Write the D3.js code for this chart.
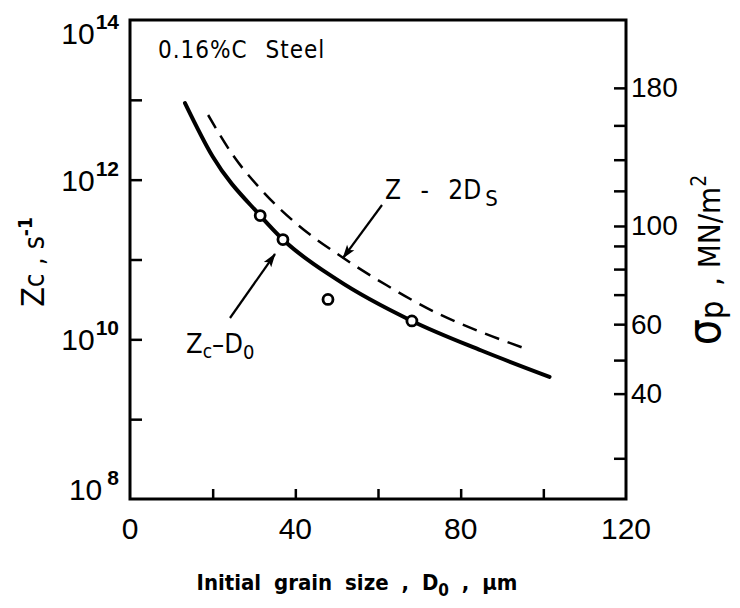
<!DOCTYPE html>
<html>
<head>
<meta charset="utf-8">
<script src="https://cdn.jsdelivr.net/npm/d3@7"></script>
<style>
  body { margin: 0; background: #fff; }
  svg text { font-family: "DejaVu Sans", sans-serif; font-stretch: condensed; fill: #000; }
  svg text.num { font-family: "Liberation Sans", Arial, sans-serif; font-stretch: normal; }
</style>
</head>
<body>
<svg id="chart" width="740" height="608"></svg>
<script>
/* grain size ticks (um) */
let xTicks = [20, 40, 60, 80, 100];
let xLabels = [0, 40, 80, 120];

/* log10 of Zc, left axis */
let zTicks = [9, 10, 11, 12, 13];
let zLabels = [14, 12, 10, 8];

/* right axis: peak stress and the log10 Z it lines up with */
let sigmaTicks = [30, 40, 50, 60, 70, 80, 90, 100, 120, 140, 160, 180];
let sigmaLogZ = [8.51, 9.32, 9.74, 10.19, 10.56, 10.88, 11.17, 11.42, 11.86, 12.25, 12.68, 13.15];
let sigmaLabels = [40, 60, 100, 180];

/* Zc - D0 curve (solid) */
let solidD = [13.3, 20, 31.5, 37, 50, 68.2, 85, 101.5];
let solidLogZ = [12.96, 12.29, 11.55, 11.25, 10.75, 10.23, 9.86, 9.53];

/* Z - 2Ds curve (dashed) */
let dashD = [18.9, 25, 32, 40, 51, 62, 75, 85, 94.8];
let dashLogZ = [12.81, 12.30, 11.86, 11.46, 11.04, 10.68, 10.31, 10.09, 9.90];

/* measured points */
let pointD = [31.5, 37, 47.9, 68.2];
let pointLogZ = [11.55, 11.25, 10.50, 10.23];

let svg = d3.select("#chart");

let plot = { left: 130, right: 626, top: 20, bottom: 499 };

let x = d3.scaleLinear().domain([0, 120]).range([plot.left, plot.right]);
let y = d3.scaleLog().domain([1e8, 1e14]).range([plot.bottom, plot.top]);
let sigmaScale = d3.scaleLinear()
    .domain(sigmaTicks)
    .range(sigmaLogZ.map(v => y(Math.pow(10, v))));

// frame
svg.append("rect")
    .attr("x", plot.left)
    .attr("y", plot.top)
    .attr("width", plot.right - plot.left)
    .attr("height", plot.bottom - plot.top)
    .attr("fill", "none")
    .attr("stroke", "#000")
    .attr("stroke-width", 3);

// bottom axis, ticks pointing inward
let xAxis = d3.axisBottom(x)
    .tickValues(xTicks)
    .tickSize(-10)
    .tickFormat("");
let xAxisG = svg.append("g")
    .attr("transform", "translate(0," + plot.bottom + ")")
    .call(xAxis);
xAxisG.select(".domain").remove();
xAxisG.selectAll(".tick line").attr("stroke-width", 2.5);

xLabels.forEach(v => {
    svg.append("text")
        .attr("class", "num")
        .attr("x", x(v))
        .attr("y", 539)
        .attr("text-anchor", "middle")
        .style("font-size", "30px")
        .text(v);
});

// left axis
let yAxis = d3.axisLeft(y)
    .tickValues(zTicks.map(v => Math.pow(10, v)))
    .tickSize(-12)
    .tickFormat("");
let yAxisG = svg.append("g")
    .attr("transform", "translate(" + plot.left + ",0)")
    .call(yAxis);
yAxisG.select(".domain").remove();
yAxisG.selectAll(".tick line").attr("stroke-width", 2.5);

zLabels.forEach(v => {
    let cy = Math.min(Math.max(y(Math.pow(10, v)), 33), 489);
    let t = svg.append("text")
        .attr("class", "num")
        .attr("x", 119)
        .attr("y", cy + 11)
        .attr("text-anchor", "end")
        .style("font-size", "30px");
    t.append("tspan").text("10");
    t.append("tspan")
        .attr("dy", -15)
        .attr("dx", v < 10 ? 5 : 1)
        .style("font-size", "21px")
        .style("font-weight", "bold")
        .text(v);
});

// right axis
let rAxis = d3.axisRight(sigmaScale)
    .tickValues(sigmaTicks)
    .tickSize(-12)
    .tickPadding(5)
    .tickFormat(d => sigmaLabels.includes(d) ? d : "");
let rAxisG = svg.append("g")
    .attr("transform", "translate(" + plot.right + ",0)")
    .call(rAxis);
rAxisG.select(".domain").remove();
rAxisG.selectAll(".tick line").attr("stroke-width", 2.5);
rAxisG.selectAll(".tick text")
    .attr("class", "num")
    .style("font-size", "28px")
    .attr("fill", "#000");

// curves
let line = d3.line()
    .x(d => x(d[0]))
    .y(d => y(Math.pow(10, d[1])))
    .curve(d3.curveMonotoneX);

svg.append("path")
    .datum(d3.zip(solidD, solidLogZ))
    .attr("d", line)
    .attr("fill", "none")
    .attr("stroke", "#000")
    .attr("stroke-width", 4)
    .attr("stroke-linecap", "round");

svg.append("path")
    .datum(d3.zip(dashD, dashLogZ))
    .attr("d", line)
    .attr("fill", "none")
    .attr("stroke", "#000")
    .attr("stroke-width", 2.5)
    .attr("stroke-dasharray", "15,9");

svg.selectAll("circle.pt")
    .data(d3.zip(pointD, pointLogZ))
    .join("circle")
    .attr("class", "pt")
    .attr("cx", d => x(d[0]))
    .attr("cy", d => y(Math.pow(10, d[1])))
    .attr("r", 5)
    .attr("fill", "#fff")
    .attr("stroke", "#000")
    .attr("stroke-width", 2.8);

// arrows
svg.append("defs").append("marker")
    .attr("id", "head")
    .attr("viewBox", "0 0 14 10")
    .attr("refX", 13)
    .attr("refY", 5)
    .attr("markerWidth", 16)
    .attr("markerHeight", 10)
    .attr("markerUnits", "userSpaceOnUse")
    .attr("orient", "auto")
    .append("path")
    .attr("d", "M0,0.5 L14,5 L0,9.5 L3,5 Z")
    .attr("fill", "#000");

let arrows = [[382, 205, 343, 258], [230, 318, 275, 254]];
arrows.forEach(a => {
    svg.append("line")
        .attr("x1", a[0]).attr("y1", a[1])
        .attr("x2", a[2]).attr("y2", a[3])
        .attr("stroke", "#000")
        .attr("stroke-width", 2.2)
        .attr("marker-end", "url(#head)");
});

// in-plot labels
svg.append("text")
    .attr("x", 158)
    .attr("y", 58)
    .style("font-size", "24px")
    .style("letter-spacing", "1px")
    .style("word-spacing", "10px")
    .text("0.16%C Steel");

let zs = svg.append("text")
    .attr("x", 385)
    .attr("y", 199)
    .style("font-size", "26px")
    .style("word-spacing", "12px");
zs.append("tspan").text("Z - 2D");
zs.append("tspan").attr("dy", 7).attr("dx", 4).style("font-size", "22px").text("S");

let zc = svg.append("text")
    .attr("x", 186)
    .attr("y", 353)
    .style("font-size", "27px");
zc.append("tspan").text("Z");
zc.append("tspan").attr("dy", 5).style("font-size", "19px").text("c");
zc.append("tspan").attr("dy", -5).text("\u2013D");
zc.append("tspan").attr("dy", 6).style("font-size", "20px").text("0");

// axis titles
let lt = svg.append("text")
    .attr("transform", "translate(44,262) rotate(-90)")
    .attr("text-anchor", "middle")
    .style("font-size", "32px");
lt.append("tspan").text("Z");
lt.append("tspan").style("font-size", "28px").text("c , s");
lt.append("tspan").attr("dy", -12).style("font-size", "19px").style("font-weight", "bold").text("-1");

let rt = svg.append("text")
    .attr("transform", "translate(720,260) rotate(-90)")
    .attr("text-anchor", "middle")
    .style("font-size", "31px");
rt.append("tspan").style("font-size", "46px").text("\u03c3");
rt.append("tspan").attr("dy", 3).style("font-size", "32px").text("p");
rt.append("tspan").attr("dy", -3).attr("dx", 6).text(" ,  MN/m");
rt.append("tspan").attr("dy", -14).style("font-size", "21px").text("2");

let bt = svg.append("text")
    .attr("x", 357)
    .attr("y", 590)
    .attr("text-anchor", "middle")
    .style("font-size", "22px")
    .style("font-weight", "bold")
    .style("word-spacing", "6px");
bt.append("tspan").text("Initial grain size , D");
bt.append("tspan").attr("dy", 6).style("font-size", "17px").text("0");
bt.append("tspan").attr("dy", -6).text(" , \u00b5m");
</script>
</body>
</html>
